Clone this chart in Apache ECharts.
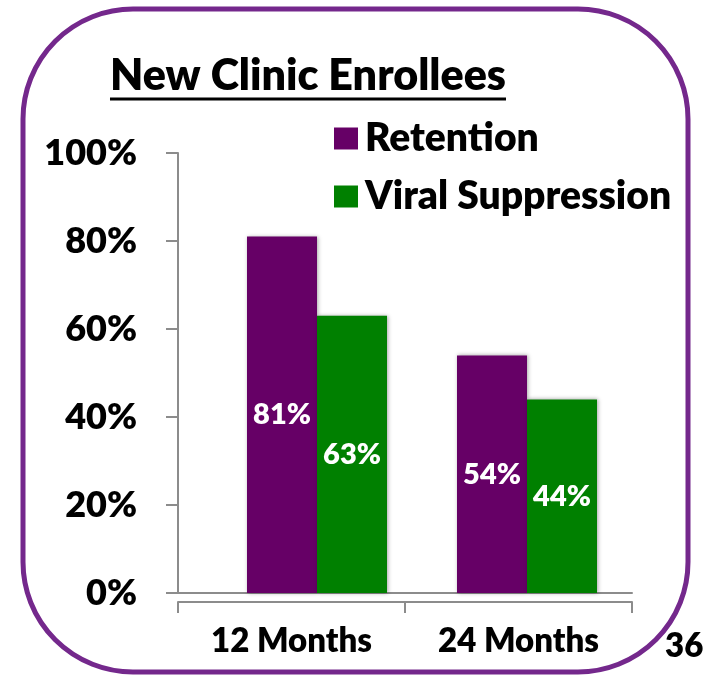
<!DOCTYPE html>
<html>
<head>
<meta charset="utf-8">
<script src="https://cdn.jsdelivr.net/npm/echarts@6/dist/echarts.min.js"></script>
<style>
  html, body { margin: 0; padding: 0; background: #fff; }
  #root { width: 705px; height: 685px; }
</style>
</head>
<body>
<div id="root"></div>
<script>
var categories = ['12 Months', '24 Months'];
var retention = [81, 54];
var viralSuppression = [63, 44];
var seriesNames = ['Retention', 'Viral Suppression'];
var titleText = 'New Clinic Enrollees';
var cornerText = '36';

var FONT = 'Lato';
var WEIGHT = 800;
var AXIS_GRAY = '#8c8c8c';

// measure title width so the underline matches
var measureText = (text, font) => {
  const ctx = document.createElement('canvas').getContext('2d');
  ctx.font = font;
  return ctx.measureText(text).width;
};

(function () {
  const chart = echarts.init(document.getElementById('root'));
  const titleFont = WEIGHT + ' 43px ' + FONT;
  const titleW = measureText(titleText, titleFont);
  const titleX = 308;

  const barLabel = { show: true, position: 'inside', formatter: '{c}%', color: '#fff', fontFamily: FONT, fontWeight: WEIGHT, fontSize: 29 };

  const option = {
    animation: false,
    textStyle: { fontFamily: FONT },
    grid: [
      { left: 178, right: 73, top: 153, bottom: 92 },
      { left: 212, right: 73, top: 153, bottom: 92 }
    ],
    legend: {
      orient: 'vertical',
      left: 329,
      top: 114,
      itemWidth: 24,
      itemHeight: 22,
      itemGap: 19,
      icon: 'rect',
      data: seriesNames,
      textStyle: { fontFamily: FONT, fontWeight: WEIGHT, fontSize: 39, lineHeight: 36, color: '#000', padding: [0, 0, 0, 2] }
    },
    xAxis: [
      {
        // zero line
        type: 'category', gridIndex: 0, data: categories,
        axisLine: { show: true, lineStyle: { color: AXIS_GRAY, width: 2 } },
        axisTick: { show: false }, axisLabel: { show: false }
      },
      {
        // label axis, dropped just below the zero line
        type: 'category', gridIndex: 0, data: categories, position: 'bottom', offset: 9,
        axisLine: { show: true, lineStyle: { color: AXIS_GRAY, width: 2 } },
        axisTick: { show: true, length: 11, lineStyle: { color: AXIS_GRAY, width: 2 } },
        axisLabel: { fontFamily: FONT, fontWeight: WEIGHT, fontSize: 33, color: '#000', margin: 23 }
      },
      {
        type: 'category', gridIndex: 1, data: categories, show: false
      }
    ],
    yAxis: [
      {
        type: 'value', gridIndex: 0, min: 0, max: 100, interval: 20,
        axisLine: { show: true, lineStyle: { color: AXIS_GRAY, width: 2 } },
        axisTick: { show: true, length: 12, lineStyle: { color: AXIS_GRAY, width: 2 } },
        splitLine: { show: false },
        axisLabel: { formatter: '{value}%', fontFamily: FONT, fontWeight: WEIGHT, fontSize: 36, color: '#000', margin: 41 }
      },
      { type: 'value', gridIndex: 1, min: 0, max: 100, show: false }
    ],
    series: [
      {
        name: seriesNames[0], type: 'bar', xAxisIndex: 2, yAxisIndex: 1,
        data: retention, barWidth: 70, barGap: '0%',
        itemStyle: { color: '#660066', shadowBlur: 4, shadowColor: 'rgba(0,0,0,0.35)', shadowOffsetX: 1 },
        label: barLabel
      },
      {
        name: seriesNames[1], type: 'bar', xAxisIndex: 2, yAxisIndex: 1,
        data: viralSuppression, barWidth: 70, barGap: '0%',
        itemStyle: { color: '#008000', shadowBlur: 4, shadowColor: 'rgba(0,0,0,0.35)', shadowOffsetX: 1 },
        label: barLabel
      }
    ],
    graphic: [
      {
        type: 'rect', silent: true,
        shape: { x: 23, y: 9, width: 665, height: 663, r: 110 },
        style: { fill: 'none', stroke: '#74288c', lineWidth: 5 }
      },
      {
        type: 'text', x: titleX, y: 76,
        style: { text: titleText, font: titleFont, fill: '#000', textAlign: 'center', textVerticalAlign: 'middle' }
      },
      {
        type: 'line',
        shape: { x1: titleX - titleW / 2, y1: 99, x2: titleX + titleW / 2, y2: 99 },
        style: { stroke: '#000', lineWidth: 3 }
      },
      {
        type: 'text', x: 665, y: 646,
        style: { text: cornerText, font: WEIGHT + ' 33px ' + FONT, fill: '#000', textAlign: 'left', textVerticalAlign: 'middle' }
      }
    ]
  };
  chart.setOption(option);
})();
</script>
</body>
</html>
